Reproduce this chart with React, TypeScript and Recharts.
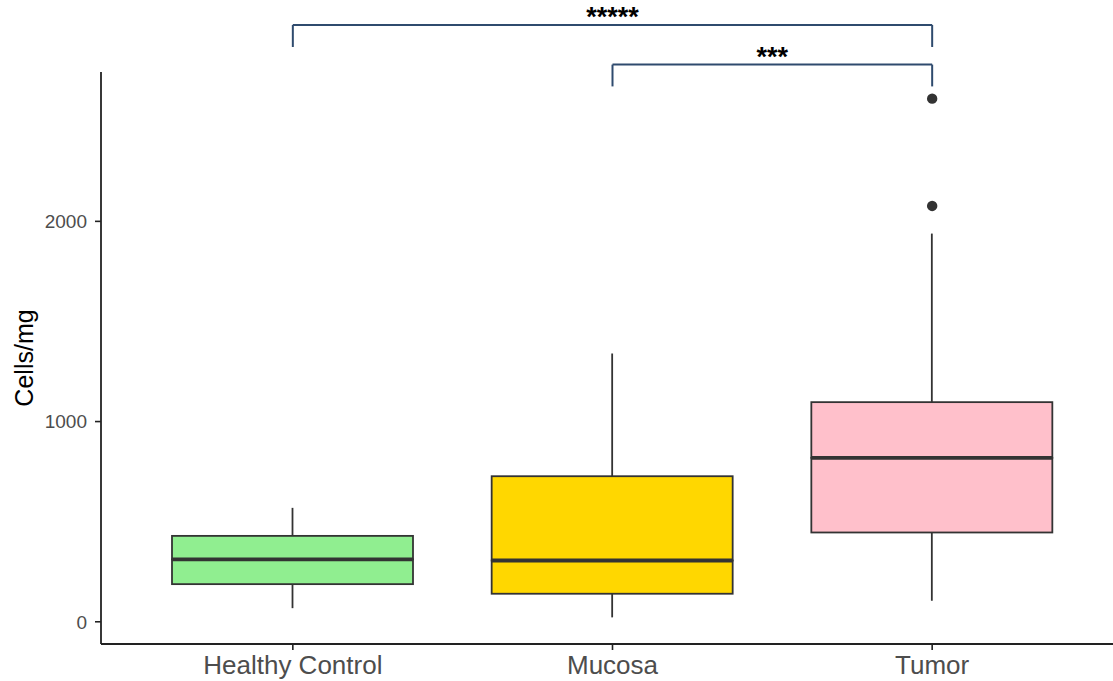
import { ComposedChart, Bar, Scatter, XAxis, YAxis, ReferenceLine, Label } from "recharts";

// box plot statistics
const groups = ["Healthy Control", "Mucosa", "Tumor"];
const whiskerLow = [68, 22, 105];
const lowerQuartile = [188, 140, 446];
const medians = [312, 306, 819];
const upperQuartile = [429, 727, 1097];
const whiskerHigh = [569, 1340, 1939];
const outlierA = [null, null, 2077];
const outlierB = [null, null, 2613];
const yTicks = [0, 1000, 2000];

// significance brackets (data units)
const brackets = [
  { from: "Healthy Control", to: "Tumor", top: 2981, foot: 2871, text: "*****" },
  { from: "Mucosa", to: "Tumor", top: 2783, foot: 2674, text: "***" },
];

const fills = ["#90EE90", "#FFD700", "#FFC0CB"];
const ink = "#333333";
const bracketColor = "#2F4B6E";

const data = groups.map((name, i) => ({
  name,
  base: whiskerLow[i],
  lowWhisker: lowerQuartile[i] - whiskerLow[i],
  lowBox: medians[i] - lowerQuartile[i],
  highBox: upperQuartile[i] - medians[i],
  highWhisker: whiskerHigh[i] - upperQuartile[i],
  outA: outlierA[i],
  outB: outlierB[i],
}));

const Empty = () => <g />;

const Whisker = (p: any) => {
  const cx = p.x + p.width / 2;
  return <line x1={cx} x2={cx} y1={p.y} y2={p.y + p.height} stroke={ink} strokeWidth={1.8} />;
};

const BoxLow = (p: any) => (
  <rect x={p.x} y={p.y} width={p.width} height={p.height} fill={fills[p.index]} stroke={ink} strokeWidth={1.8} />
);

const BoxHigh = (p: any) => (
  <g>
    <rect x={p.x} y={p.y} width={p.width} height={p.height} fill={fills[p.index]} stroke={ink} strokeWidth={1.8} />
    <line x1={p.x} x2={p.x + p.width} y1={p.y + p.height} y2={p.y + p.height} stroke={ink} strokeWidth={3.8} />
  </g>
);

const outlierDot = (key: string) => (p: any) =>
  p.payload == null || p.payload[key] == null ? <g /> : <circle cx={p.cx} cy={p.cy} r={5.2} fill={ink} />;

const YTitle = (props: any) => {
  const vb = props.viewBox;
  const cx = 24;
  const cy = vb.y + vb.height / 2;
  return (
    <text x={cx} y={cy} transform={`rotate(-90 ${cx} ${cy})`} textAnchor="middle" dominantBaseline="central" fontSize={25} fill="#000">
      Cells/mg
    </text>
  );
};

export default function App() {
  return (
    <div style={{ position: "absolute", left: 0, top: 0, width: 1113, height: 681, fontFamily: "'Liberation Sans', Arial, sans-serif", background: "#fff" }}>
      <ComposedChart width={1113} height={681} data={data} margin={{ top: 72, right: 0, bottom: 0, left: 0 }}>
        <XAxis
          dataKey="name"
          type="category"
          padding={{ left: 32, right: 21 }}
          interval={0}
          height={37}
          tickSize={6}
          tickMargin={6}
          tick={{ fontSize: 26, fill: "#4d4d4d" }}
          axisLine={{ stroke: "#222", strokeWidth: 1.8 }}
          tickLine={{ stroke: "#222", strokeWidth: 1.6 }}
        />
        <YAxis
          type="number"
          width={101}
          domain={[-111, 2746]}
          ticks={yTicks}
          tickSize={6}
          tickMargin={8}
          tick={{ fontSize: 19, fill: "#4d4d4d" }}
          axisLine={{ stroke: "#222", strokeWidth: 1.8 }}
          tickLine={{ stroke: "#222", strokeWidth: 1.6 }}
        >
          <Label content={YTitle} />
        </YAxis>
        <Bar dataKey="base" stackId="box" barSize={241} shape={Empty} isAnimationActive={false} />
        <Bar dataKey="lowWhisker" stackId="box" barSize={241} shape={Whisker} isAnimationActive={false} />
        <Bar dataKey="lowBox" stackId="box" barSize={241} shape={BoxLow} isAnimationActive={false} />
        <Bar dataKey="highBox" stackId="box" barSize={241} shape={BoxHigh} isAnimationActive={false} />
        <Bar dataKey="highWhisker" stackId="box" barSize={241} shape={Whisker} isAnimationActive={false} />
        <Scatter dataKey="outA" shape={outlierDot("outA")} isAnimationActive={false} />
        <Scatter dataKey="outB" shape={outlierDot("outB")} isAnimationActive={false} />
        {brackets.map((b) => [
          <ReferenceLine
            key={b.text + "h"}
            segment={[{ x: b.from, y: b.top }, { x: b.to, y: b.top }]}
            ifOverflow="visible"
            stroke={bracketColor}
            strokeWidth={2}
            label={{ value: b.text, position: "top", offset: -1, fontSize: 27, fontWeight: "bold", fill: "#000" }}
          />,
          <ReferenceLine
            key={b.text + "l"}
            segment={[{ x: b.from, y: b.top }, { x: b.from, y: b.foot }]}
            ifOverflow="visible"
            stroke={bracketColor}
            strokeWidth={2}
          />,
          <ReferenceLine
            key={b.text + "r"}
            segment={[{ x: b.to, y: b.top }, { x: b.to, y: b.foot }]}
            ifOverflow="visible"
            stroke={bracketColor}
            strokeWidth={2}
          />,
        ])}
      </ComposedChart>
    </div>
  );
}
